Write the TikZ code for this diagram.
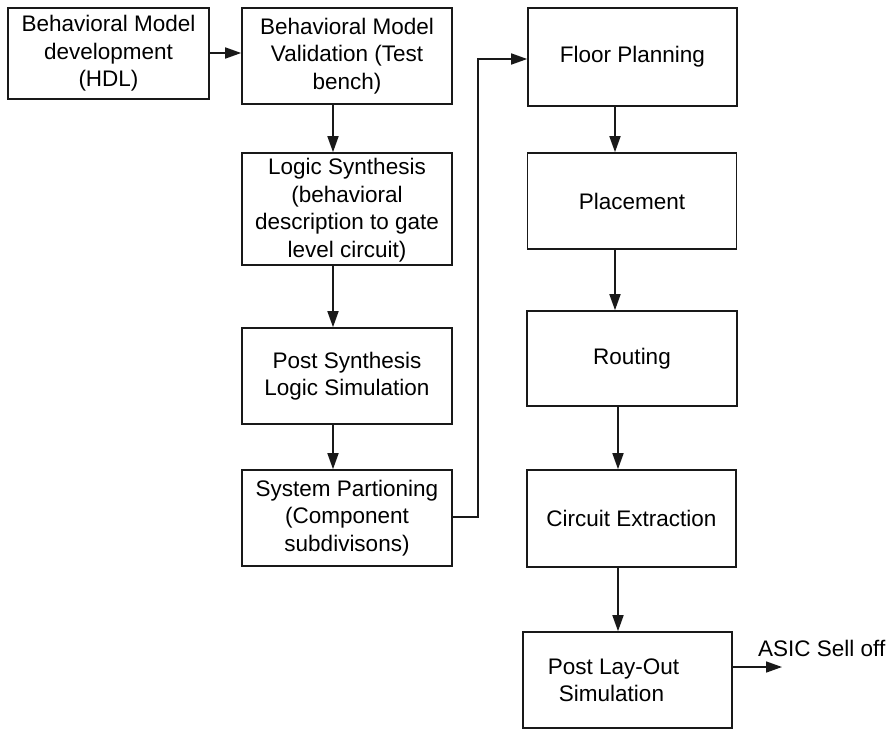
\documentclass[tikz,border=0pt]{standalone}
\usepackage{fontspec}
\setmainfont{Liberation Sans}
\usetikzlibrary{arrows.meta}
\begin{document}
\begin{tikzpicture}[x=1pt,y=-1pt,
  box/.style={draw=black!90,line width=1.6pt,minimum width=#1,inner sep=2pt,align=center,
    font=\fontsize{22.5}{27.5}\selectfont},
  arr/.style={draw=black!90,line width=1.6pt,-{Triangle[length=16pt,width=11pt]}}]
\useasboundingbox (0,0) rectangle (891,729);
\node[box=201pt,minimum height=91pt] (b1) at (108.5,53.5) {Behavioral Model\\development\\(HDL)};
\node[box=210pt,minimum height=96pt] (b2) at (347,56) {Behavioral Model\\Validation (Test\\bench)};
\node[box=210pt,minimum height=112pt,inner sep=0pt] (b3) at (347,209) {\rule{0pt}{19pt}Logic Synthesis\\(behavioral\\description to gate\\level circuit)};
\node[box=210pt,minimum height=96pt] (b4) at (347,376) {Post Synthesis\\Logic Simulation};
\node[box=210pt,minimum height=96pt] (b5) at (347,518) {System Partioning\\(Component\\subdivisons)};
\node[box=209pt,minimum height=98pt] (fp) at (632.5,57) {Floor Planning};
\node[box=209pt,minimum height=96pt] (pl) at (632,201) {Placement};
\node[box=210pt,minimum height=95pt] (ro) at (632,358.5) {Routing};
\node[box=209pt,minimum height=97pt] (ce) at (631.5,518.5) {Circuit Extraction};
\node[box=209pt,minimum height=96pt] (pls) at (627.5,680) {Post Lay-Out\hspace*{28pt}\\Simulation\hspace*{32pt}};
\node[font=\fontsize{22.5}{27.5}\selectfont,anchor=west,inner sep=0pt] (asic) at (758,648) {ASIC Sell off};
\coordinate (fb) at (478,59);
\coordinate (ae) at (782,667);
\draw[arr] (b1.east |- 0,53) -- (b2.west |- 0,53);
\draw[arr] ([xshift=-14pt]b2.south) -- ([xshift=-14pt]b2.south |- b3.north);
\draw[arr] ([xshift=-14pt]b3.south) -- ([xshift=-14pt]b3.south |- b4.north);
\draw[arr] ([xshift=-14pt]b4.south) -- ([xshift=-14pt]b4.south |- b5.north);
\draw[arr] (b5.east |- 0,517) -- (fb |- 0,517) -- (fb) -- (fb -| fp.west);
\draw[arr] ([xshift=-17.5pt]fp.south) -- ([xshift=-17.5pt]fp.south |- pl.north);
\draw[arr] ([xshift=-17pt]pl.south) -- ([xshift=-17pt]pl.south |- ro.north);
\draw[arr] ([xshift=-14pt]ro.south) -- ([xshift=-14pt]ro.south |- ce.north);
\draw[arr] ([xshift=-13.5pt]ce.south) -- ([xshift=-13.5pt]ce.south |- pls.north);
\draw[arr] (pls.east |- ae) -- (ae);
\end{tikzpicture}
\end{document}
